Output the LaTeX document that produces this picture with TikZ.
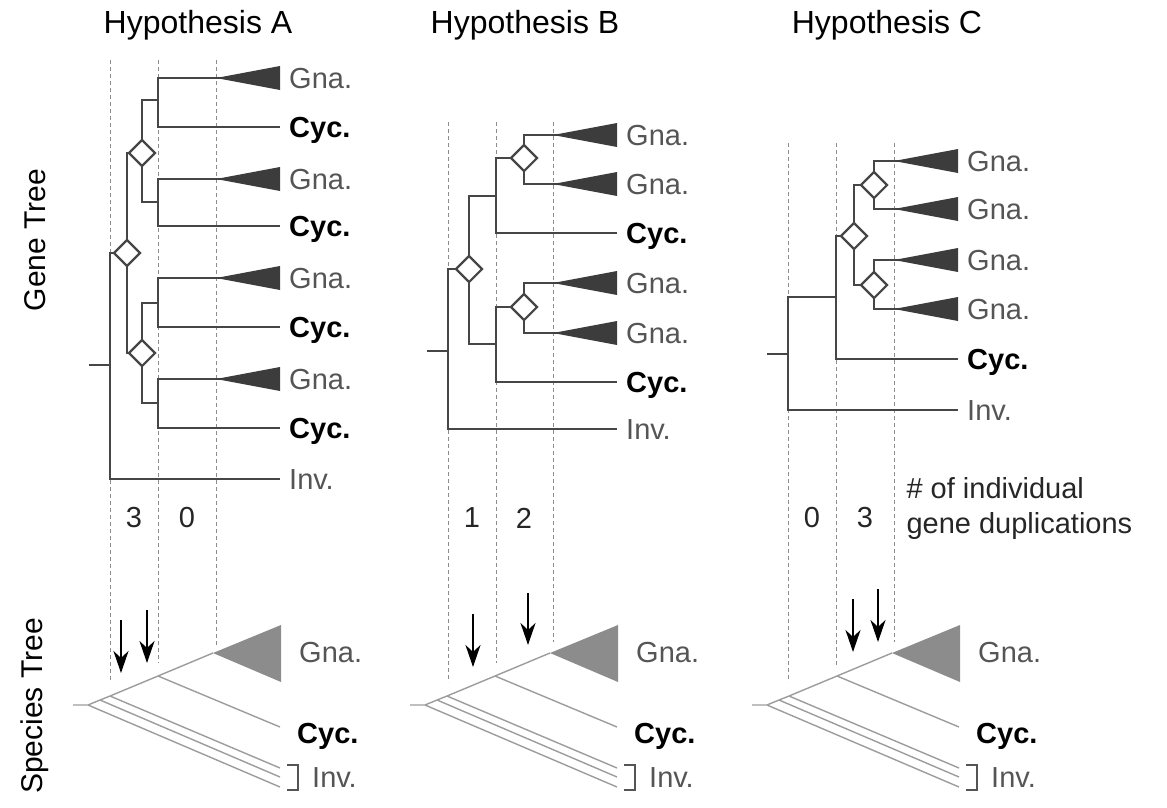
\documentclass[tikz,border=0pt]{standalone}
\usepackage{fontspec}
\setmainfont{Liberation Sans}
\usetikzlibrary{arrows.meta,shapes.geometric}
\definecolor{genegray}{HTML}{464646}
\definecolor{cladegray}{HTML}{3C3C3C}
\definecolor{labgray}{HTML}{555555}
\definecolor{guidegray}{HTML}{8C8C8C}
\definecolor{spgray}{HTML}{9C9C9C}
\definecolor{sptri}{HTML}{8C8C8C}

\begin{document}
\begin{tikzpicture}[x=1pt,y=-1pt,
  gene/.style={draw=genegray,line width=2.3pt},
  dup/.style={diamond,draw=genegray,fill=white,line width=2.2pt,minimum width=27pt,minimum height=27pt,inner sep=0pt},
  leaf/.style={anchor=west,inner xsep=9pt,inner ysep=0pt,text height=21pt,text depth=0pt,font=\fontsize{29}{34}\selectfont},
  gna/.style={leaf,text=labgray},
  cyc/.style={leaf,font=\fontsize{29}{34}\selectfont\bfseries},
  clade/.style={fill=cladegray},
  guide/.style={draw=guidegray,line width=1pt,dash pattern=on 4pt off 3pt},
  sp/.style={draw=spgray,line width=1.4pt},
  dupl/.style={-{Stealth[length=22pt,width=15pt,inset=7pt]},line width=2.6pt},
  num/.style={font=\fontsize{29}{34}\selectfont,text=black!85},
  title/.style={font=\fontsize{32}{38}\selectfont},
  side/.style={font=\fontsize{30}{36}\selectfont,rotate=90}]
\useasboundingbox (0,0) rectangle (1167,807);

% titles
\node[title] (A-t) at (198,25) {Hypothesis A};
\node[title] (B-t) at (525,25) {Hypothesis B};
\node[title] (C-t) at (887,25) {Hypothesis C};
\node[side] (gt) at (35,240) {Gene Tree};
\node[side] (st) at (35,706) {Species Tree};

% dashed guides
\foreach \x/\t/\b in {110/60/682, 158/60/663, 216/60/647,
                      448/122/682, 496/122/663, 553/122/642,
                      788/143/682, 836/143/667, 894/143/642}
  \draw[guide] (\x,\t) -- (\x,\b);

% Hypothesis A, gene tree
\coordinate (A-s) at (89,365);
\coordinate (A-r) at (110,365);
\coordinate (A-d) at (127,253);
\coordinate (A-d1) at (142,153);
\coordinate (A-d2) at (142,353);
\coordinate (A-n1) at (158,100);
\coordinate (A-n2) at (158,202);
\coordinate (A-n3) at (158,303);
\coordinate (A-n4) at (158,403);
\node[gna] (A-g1) at (280,78) {Gna.};
\node[cyc] (A-c1) at (280,127) {Cyc.};
\node[gna] (A-g2) at (280,179) {Gna.};
\node[cyc] (A-c2) at (280,226) {Cyc.};
\node[gna] (A-g3) at (280,278) {Gna.};
\node[cyc] (A-c3) at (280,327) {Cyc.};
\node[gna] (A-g4) at (280,379) {Gna.};
\node[cyc] (A-c4) at (280,428) {Cyc.};
\node[gna] (A-i) at (280,479) {Inv.};
\draw[gene] (A-s) -- (A-r) |- (A-d);
\draw[gene] (A-r) |- (A-i.west);
\draw[gene] (A-d) |- (A-d1) (A-d) |- (A-d2);
\draw[gene] (A-d1) |- (A-n1) (A-d1) |- (A-n2);
\draw[gene] (A-d2) |- (A-n3) (A-d2) |- (A-n4);
\foreach \n/\g/\c in {n1/g1/c1, n2/g2/c2, n3/g3/c3, n4/g4/c4}
  \draw[gene] (A-\n) |- (A-\g.west) (A-\n) |- (A-\c.west);

% Hypothesis B, gene tree
\coordinate (B-s) at (427,351);
\coordinate (B-r) at (448,351);
\coordinate (B-d) at (469,269);
\coordinate (B-n1) at (496,196);
\coordinate (B-n2) at (496,344);
\coordinate (B-d1) at (524,158);
\coordinate (B-d2) at (524,307);
\node[gna] (B-g1) at (617,135) {Gna.};
\node[gna] (B-g2) at (617,184) {Gna.};
\node[cyc] (B-c1) at (617,233) {Cyc.};
\node[gna] (B-g3) at (617,283) {Gna.};
\node[gna] (B-g4) at (617,333) {Gna.};
\node[cyc] (B-c2) at (617,382) {Cyc.};
\node[gna] (B-i) at (617,429) {Inv.};
\draw[gene] (B-s) -- (B-r) |- (B-d);
\draw[gene] (B-r) |- (B-i.west);
\draw[gene] (B-d) |- (B-n1) (B-d) |- (B-n2);
\draw[gene] (B-n1) |- (B-d1) (B-n1) |- (B-c1.west);
\draw[gene] (B-n2) |- (B-d2) (B-n2) |- (B-c2.west);
\draw[gene] (B-d1) |- (B-g1.west) (B-d1) |- (B-g2.west);
\draw[gene] (B-d2) |- (B-g3.west) (B-d2) |- (B-g4.west);

% Hypothesis C, gene tree
\coordinate (C-s) at (767,354);
\coordinate (C-r) at (788,354);
\coordinate (C-n1) at (836,297);
\coordinate (C-d) at (854,236);
\coordinate (C-d1) at (874,185);
\coordinate (C-d2) at (874,285);
\node[gna] (C-g1) at (958,161) {Gna.};
\node[gna] (C-g2) at (958,209) {Gna.};
\node[gna] (C-g3) at (958,260) {Gna.};
\node[gna] (C-g4) at (958,309) {Gna.};
\node[cyc] (C-c1) at (958,359) {Cyc.};
\node[gna] (C-i) at (958,410) {Inv.};
\draw[gene] (C-s) -- (C-r) |- (C-n1);
\draw[gene] (C-r) |- (C-i.west);
\draw[gene] (C-n1) |- (C-d) (C-n1) |- (C-c1.west);
\draw[gene] (C-d) |- (C-d1) (C-d) |- (C-d2);
\draw[gene] (C-d1) |- (C-g1.west) (C-d1) |- (C-g2.west);
\draw[gene] (C-d2) |- (C-g3.west) (C-d2) |- (C-g4.west);

% collapsed clades and duplications
\foreach \g in {A-g1,A-g2,A-g3,A-g4,B-g1,B-g2,B-g3,B-g4,C-g1,C-g2,C-g3,C-g4}
  \fill[clade] (\g.west) -- ++(0,-12) -- ++(-64,12) -- ++(64,12) -- cycle;
\foreach \d in {A-d,A-d1,A-d2,B-d,B-d1,B-d2,C-d,C-d1,C-d2}
  \node[dup] (\d-box) at (\d) {};

% counts
\node[num] (A-k1) at (134,518) {3};
\node[num] (A-k2) at (187,518) {0};
\node[num] (B-k1) at (472,518) {1};
\node[num] (B-k2) at (524,518) {2};
\node[num] (C-k1) at (812,518) {0};
\node[num] (C-k2) at (865,518) {3};
\node[num,anchor=west,align=left,font=\fontsize{29}{35}\selectfont] (note) at (903,508) {\# of individual\\gene duplications};

% species trees
\foreach \o/\t in {88/A,425/B,767/C}{
  \coordinate (\t-ss) at (\o-15,705);
  \coordinate (\t-sr) at (\o,705);
  \coordinate (\t-b1) at (\o+12,700);
  \coordinate (\t-b2) at (\o+22,696);
  \coordinate (\t-b3) at (\o+70,676);
  \coordinate (\t-ap) at (\o+125,653);
  \coordinate (\t-ce) at (\o+192,727);
  \coordinate (\t-i1) at (\o+192,768);
  \coordinate (\t-i2) at (\o+192,777);
  \coordinate (\t-i3) at (\o+192,787);
  \draw[sp] (\t-ss) -- (\t-sr) -- (\t-b1) -- (\t-b2) -- (\t-b3) -- (\t-ap);
  \draw[sp] (\t-b3) -- (\t-ce);
  \draw[sp] (\t-b2) -- (\t-i1);
  \draw[sp] (\t-b1) -- (\t-i2);
  \draw[sp] (\t-sr) -- (\t-i3);
  \fill[sptri] (\t-ap) -- (\o+193,625) -- (\o+193,682) -- cycle;
  \draw[sp,draw=labgray] (\o+199,765) -- (\o+210,765) -- (\o+210,790) -- (\o+199,790);
  \node[gna] (\t-sg) at (\o+202,652) {Gna.};
  \node[cyc] (\t-sc) at (\o+200,733) {Cyc.};
  \node[gna] (\t-si) at (\o+215,777) {Inv.};
}

% duplication events
\draw[dupl] (121,620) -- (121,673);
\draw[dupl] (147,610) -- (147,663);
\draw[dupl] (473,614) -- (473,667);
\draw[dupl] (528,593) -- (528,645);
\draw[dupl] (853,599) -- (853,652);
\draw[dupl] (878,589) -- (878,642);
\end{tikzpicture}
\end{document}
